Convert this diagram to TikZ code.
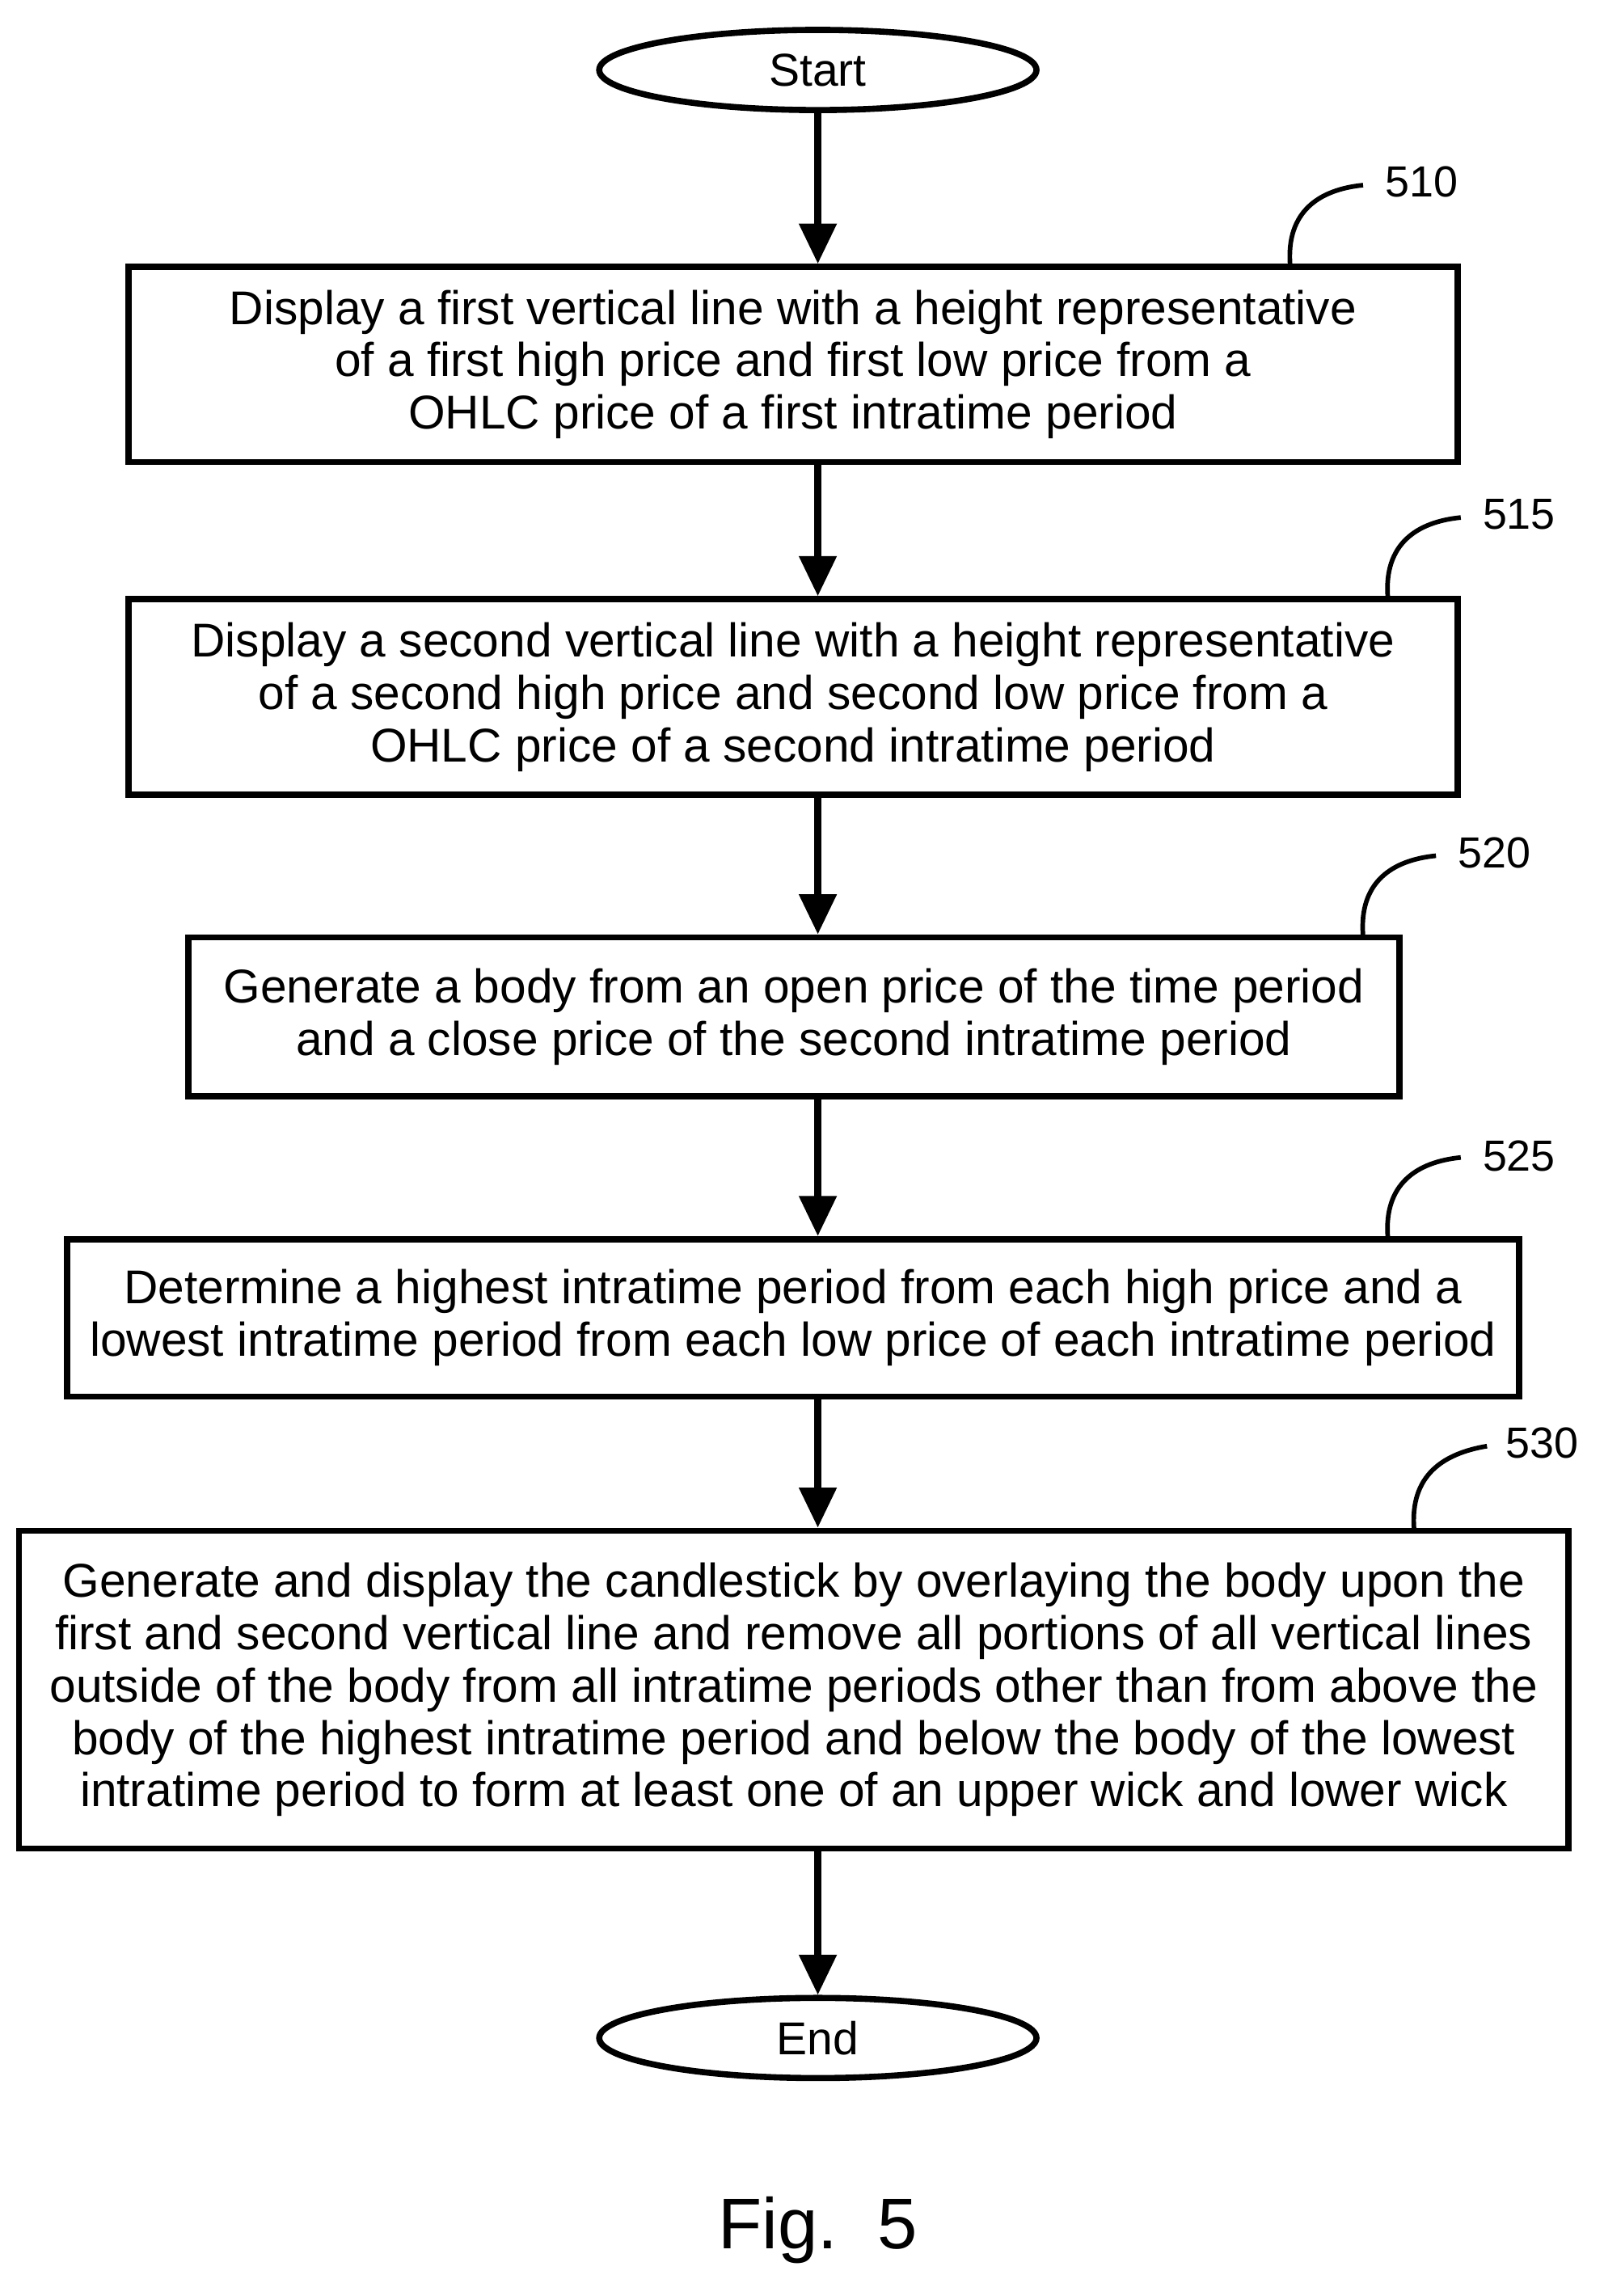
\documentclass[tikz,border=0pt]{standalone}
\usepackage{fontspec}
\setmainfont{Liberation Sans}
\usetikzlibrary{arrows.meta,positioning,shapes.geometric}
\tikzset{
    stepbox/.style={draw, line width=2.4pt, align=center, font=\fontsize{18.5}{20.5}\selectfont, inner sep=0pt},
    term/.style={draw, ellipse, line width=2.4pt, minimum width=6cm, minimum height=1.1cm, font=\fontsize{18}{20}\selectfont},
    flow/.style={line width=2.6pt, -{Triangle[length=5.5mm, width=5mm]}},
    lead/.style={line width=1.8pt},
    refnum/.style={font=\fontsize{17}{19}\selectfont}
}
\begin{document}
\begin{tikzpicture}[x=0.02cm, y=-0.02cm]
    \useasboundingbox (0,0) rectangle (1100,1575);
    % Terminals
    \node[term] (start) at (561,48) {Start};
    \node[term] (end) at (561,1398) {End};
    % Steps
    \node[stepbox, minimum width=18.24cm, minimum height=2.68cm] (s510) at (544,250) {Display a first vertical line with a height representative\\of a first high price and first low price from a\\OHLC price of a first intratime period};
    \node[stepbox, minimum width=18.24cm, minimum height=2.68cm] (s515) at (544,478) {Display a second vertical line with a height representative\\of a second high price and second low price from a\\OHLC price of a second intratime period};
    \node[stepbox, minimum width=16.62cm, minimum height=2.18cm] (s520) at (544.5,697.5) {Generate a body from an open price of the time period\\and a close price of the second intratime period};
    \node[stepbox, minimum width=19.92cm, minimum height=2.16cm] (s525) at (544,904) {Determine a highest intratime period from each high price and a\\lowest intratime period from each low price of each intratime period};
    \node[stepbox, minimum width=21.26cm, minimum height=4.36cm] (s530) at (544.5,1159) {Generate and display the candlestick by overlaying the body upon the\\first and second vertical line and remove all portions of all vertical lines\\outside of the body from all intratime periods other than from above the\\body of the highest intratime period and below the body of the lowest\\intratime period to form at least one of an upper wick and lower wick};
    % Arrows
    \draw[flow] (start) -- (start |- s510.north);
    \draw[flow] (start |- s510.south) -- (start |- s515.north);
    \draw[flow] (start |- s515.south) -- (start |- s520.north);
    \draw[flow] (start |- s520.south) -- (start |- s525.north);
    \draw[flow] (start |- s525.south) -- (start |- s530.north);
    \draw[flow] (start |- s530.south) -- (end);
    % Reference numbers
    \node[refnum] (n510) at (975,125) {510};
    \node[refnum] (n515) at (1042,353) {515};
    \node[refnum] (n520) at (1025,585) {520};
    \node[refnum] (n525) at (1042,793) {525};
    \node[refnum] (n530) at (1058,990) {530};
    \draw[lead] (885,182) .. controls (882,145) and (905,130) .. (935,127);
    \draw[lead] (952,410) .. controls (949,373) and (972,358) .. (1002,355);
    \draw[lead] (935,642) .. controls (932,605) and (955,590) .. (985,587);
    \draw[lead] (952,849) .. controls (949,812) and (972,797) .. (1002,794);
    \draw[lead] (970,1049) .. controls (967,1012) and (990,997) .. (1020,992);
    % Caption
    \node[font=\fontsize{28}{32}\selectfont] (fig) at (561,1530) {Fig.\ \ 5};
\end{tikzpicture}
\end{document}
